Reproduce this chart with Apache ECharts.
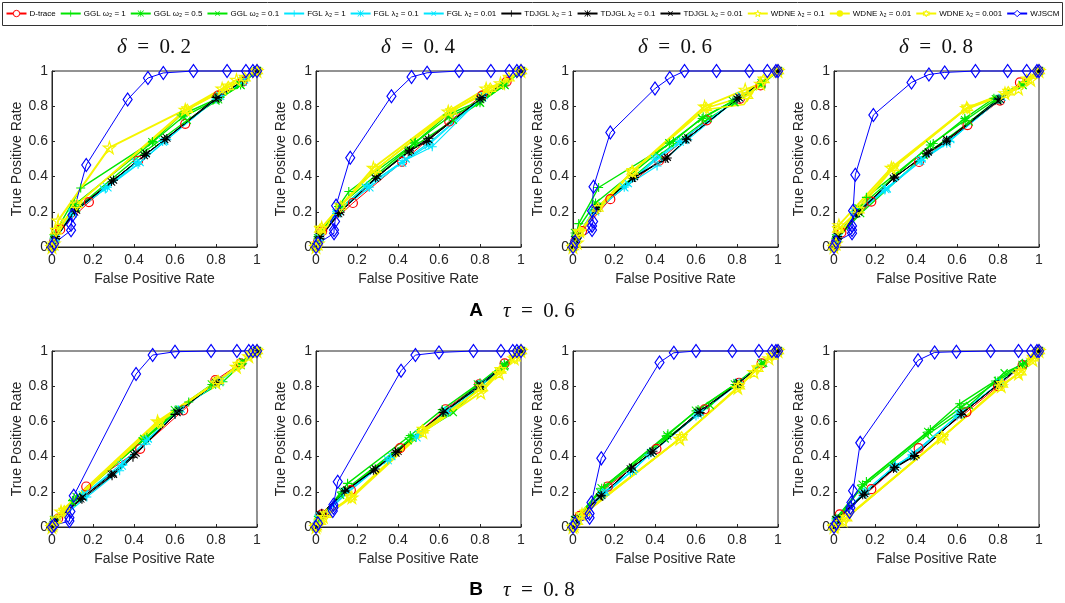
<!DOCTYPE html>
<html><head><meta charset="utf-8">
<script src="https://cdn.jsdelivr.net/npm/echarts@6/dist/echarts.min.js"></script>
<style>html,body{margin:0;padding:0;background:#fff}#c{width:1065px;height:603px}</style>
</head><body><div id="c"></div>
<script>
// Panel titles
const panelTitles = ['0. 2','0. 4','0. 6','0. 8','0. 2','0. 4','0. 6','0. 8'];
const rowLabels = [['A','0. 6'],['B','0. 8']];
const xTicks = [0,0.2,0.4,0.6,0.8,1];

// Each array: 8 panels (A: δ=0.2,0.4,0.6,0.8 ; B: δ=0.2,0.4,0.6,0.8), points [FPR, TPR]
const dtrace = [
 [[0,0],[0.01,0.03],[0.04,0.1],[0.18,0.255],[0.42,0.49],[0.65,0.70],[0.81,0.86],[0.93,0.94],[1,1]],
 [[0,0],[0.01,0.03],[0.03,0.09],[0.18,0.25],[0.42,0.484],[0.65,0.713],[0.81,0.86],[0.93,0.94],[1,1]],
 [[0,0],[0.01,0.03],[0.044,0.091],[0.182,0.272],[0.42,0.49],[0.652,0.72],[0.814,0.842],[0.915,0.918],[1,1]],
 [[0,0],[0.01,0.03],[0.036,0.082],[0.182,0.258],[0.415,0.483],[0.651,0.693],[0.81,0.832],[0.907,0.935],[1,1]],
 [[0,0],[0.03,0.048],[0.167,0.23],[0.43,0.444],[0.64,0.663],[0.797,0.834],[0.92,0.93],[1,1]],
 [[0,0],[0.028,0.072],[0.17,0.21],[0.41,0.448],[0.632,0.669],[0.796,0.811],[0.92,0.93],[1,1]],
 [[0,0],[0.033,0.063],[0.17,0.23],[0.407,0.444],[0.642,0.669],[0.81,0.819],[0.92,0.93],[1,1]],
 [[0,0],[0.028,0.072],[0.182,0.215],[0.413,0.448],[0.646,0.653],[0.8,0.8],[0.92,0.92],[1,1]]
];
const ggl1 = [
 [[0,0],[0.01,0.07],[0.14,0.335],[0.49,0.60],[0.63,0.75],[0.82,0.85],[0.92,0.93],[1,1]],
 [[0,0],[0.01,0.06],[0.16,0.315],[0.485,0.595],[0.64,0.75],[0.8,0.83],[0.91,0.92],[1,1]],
 [[0,0],[0.028,0.133],[0.125,0.338],[0.49,0.6],[0.635,0.74],[0.79,0.833],[0.92,0.93],[1,1]],
 [[0,0],[0.01,0.05],[0.158,0.282],[0.484,0.588],[0.638,0.731],[0.78,0.845],[0.92,0.93],[1,1]],
 [[0,0],[0.01,0.03],[0.1,0.15],[0.463,0.51],[0.667,0.71],[0.834,0.825],[0.93,0.93],[1,1]],
 [[0,0],[0.01,0.03],[0.154,0.248],[0.46,0.52],[0.616,0.667],[0.8,0.82],[0.918,0.928],[1,1]],
 [[0,0],[0.01,0.04],[0.153,0.229],[0.463,0.53],[0.61,0.667],[0.793,0.81],[0.92,0.92],[1,1]],
 [[0,0],[0.01,0.05],[0.158,0.259],[0.47,0.554],[0.613,0.7],[0.787,0.83],[0.92,0.93],[1,1]]
];
const ggl05 = [
 [[0,0],[0.01,0.05],[0.11,0.24],[0.49,0.595],[0.64,0.74],[0.81,0.84],[0.92,0.92],[1,1]],
 [[0,0],[0.01,0.05],[0.11,0.23],[0.48,0.59],[0.65,0.74],[0.8,0.82],[0.92,0.92],[1,1]],
 [[0,0],[0.01,0.08],[0.11,0.25],[0.47,0.59],[0.63,0.73],[0.78,0.83],[0.92,0.93],[1,1]],
 [[0,0],[0.01,0.05],[0.12,0.22],[0.47,0.58],[0.64,0.72],[0.79,0.84],[0.92,0.92],[1,1]],
 [[0,0],[0.01,0.04],[0.12,0.17],[0.45,0.5],[0.6,0.663],[0.78,0.81],[0.92,0.92],[1,1]],
 [[0,0],[0.01,0.04],[0.13,0.2],[0.469,0.507],[0.63,0.65],[0.79,0.81],[0.92,0.92],[1,1]],
 [[0,0],[0.01,0.04],[0.14,0.22],[0.46,0.52],[0.6,0.66],[0.79,0.81],[0.92,0.93],[1,1]],
 [[0,0],[0.01,0.04],[0.14,0.24],[0.46,0.54],[0.62,0.68],[0.8,0.83],[0.92,0.92],[1,1]]
];
const ggl01 = [
 [[0,0],[0.01,0.04],[0.12,0.22],[0.45,0.54],[0.66,0.72],[0.8,0.83],[0.92,0.92],[1,1]],
 [[0,0],[0.01,0.04],[0.12,0.22],[0.45,0.55],[0.67,0.72],[0.8,0.82],[0.92,0.92],[1,1]],
 [[0,0],[0.01,0.05],[0.12,0.23],[0.42,0.52],[0.66,0.73],[0.79,0.82],[0.92,0.92],[1,1]],
 [[0,0],[0.01,0.04],[0.13,0.19],[0.44,0.52],[0.66,0.71],[0.8,0.84],[0.92,0.92],[1,1]],
 [[0,0],[0.01,0.03],[0.1,0.14],[0.44,0.49],[0.62,0.67],[0.8,0.82],[0.93,0.94],[1,1]],
 [[0,0],[0.01,0.03],[0.12,0.18],[0.45,0.49],[0.67,0.65],[0.8,0.8],[0.92,0.91],[1,1]],
 [[0,0],[0.01,0.03],[0.13,0.2],[0.45,0.5],[0.67,0.69],[0.8,0.82],[0.93,0.93],[1,1]],
 [[0,0],[0.01,0.03],[0.13,0.22],[0.45,0.52],[0.66,0.69],[0.83,0.876],[0.93,0.93],[1,1]]
];
const fgl1 = [
 [[0,0],[0.01,0.04],[0.1,0.2],[0.26,0.33],[0.42,0.47],[0.56,0.61],[0.8,0.84],[0.93,0.94],[1,1]],
 [[0,0],[0.01,0.04],[0.1,0.2],[0.25,0.35],[0.43,0.49],[0.567,0.57],[0.8,0.84],[1,1]],
 [[0,0],[0.01,0.04],[0.1,0.2],[0.26,0.348],[0.41,0.46],[0.56,0.61],[0.8,0.84],[1,1]],
 [[0,0],[0.01,0.04],[0.1,0.19],[0.248,0.324],[0.427,0.49],[0.565,0.6],[0.8,0.84],[1,1]],
 [[0,0],[0.01,0.02],[0.17,0.17],[0.33,0.32],[0.45,0.47],[0.6,0.64],[0.8,0.82],[1,1]],
 [[0,0],[0.02,0.05],[0.15,0.19],[0.363,0.396],[0.5,0.52],[0.64,0.65],[0.8,0.8],[1,1]],
 [[0,0],[0.01,0.03],[0.15,0.18],[0.28,0.31],[0.37,0.41],[0.6,0.63],[0.8,0.81],[1,1]],
 [[0,0],[0.01,0.03],[0.15,0.2],[0.3,0.35],[0.385,0.404],[0.6,0.63],[0.8,0.81],[1,1]]
];
const fgl01 = [
 [[0,0],[0.01,0.03],[0.1,0.19],[0.27,0.34],[0.41,0.48],[0.54,0.6],[0.82,0.86],[0.93,0.94],[1,1]],
 [[0,0],[0.02,0.05],[0.1,0.19],[0.26,0.34],[0.42,0.48],[0.55,0.58],[0.81,0.85],[1,1]],
 [[0,0],[0.02,0.05],[0.1,0.21],[0.25,0.34],[0.4,0.5],[0.52,0.6],[0.81,0.85],[1,1]],
 [[0,0],[0.02,0.05],[0.1,0.2],[0.25,0.33],[0.42,0.49],[0.55,0.59],[0.81,0.84],[1,1]],
 [[0,0],[0.02,0.04],[0.15,0.18],[0.34,0.35],[0.46,0.49],[0.62,0.66],[0.82,0.83],[1,1]],
 [[0,0],[0.02,0.06],[0.14,0.2],[0.35,0.38],[0.49,0.51],[0.63,0.66],[0.81,0.81],[1,1]],
 [[0,0],[0.02,0.04],[0.14,0.19],[0.29,0.32],[0.38,0.42],[0.61,0.64],[0.81,0.82],[1,1]],
 [[0,0],[0.02,0.04],[0.14,0.19],[0.29,0.34],[0.38,0.41],[0.61,0.64],[0.81,0.82],[1,1]]
];
const fgl001 = [
 [[0,0],[0.02,0.05],[0.1,0.2],[0.25,0.33],[0.43,0.48],[0.55,0.6],[0.81,0.85],[0.94,0.95],[1,1]],
 [[0,0],[0.01,0.04],[0.11,0.2],[0.24,0.34],[0.44,0.5],[0.56,0.6],[0.82,0.86],[1,1]],
 [[0,0],[0.01,0.04],[0.11,0.2],[0.27,0.36],[0.42,0.51],[0.55,0.61],[0.82,0.86],[1,1]],
 [[0,0],[0.01,0.04],[0.11,0.19],[0.26,0.33],[0.43,0.5],[0.57,0.61],[0.82,0.85],[1,1]],
 [[0,0],[0.01,0.03],[0.16,0.19],[0.35,0.37],[0.47,0.5],[0.63,0.67],[0.81,0.83],[1,1]],
 [[0,0],[0.01,0.05],[0.15,0.2],[0.37,0.4],[0.5,0.53],[0.64,0.66],[0.8,0.81],[1,1]],
 [[0,0],[0.01,0.03],[0.16,0.2],[0.3,0.33],[0.39,0.43],[0.62,0.65],[0.8,0.81],[1,1]],
 [[0,0],[0.01,0.03],[0.16,0.2],[0.31,0.35],[0.39,0.42],[0.62,0.65],[0.8,0.81],[1,1]]
];
const tdjgl1 = [
 [[0,0],[0.02,0.05],[0.11,0.21],[0.3,0.38],[0.46,0.53],[0.55,0.61],[0.8,0.85],[0.93,0.94],[1,1]],
 [[0,0],[0.02,0.05],[0.118,0.197],[0.297,0.403],[0.456,0.547],[0.55,0.618],[0.8,0.84],[1,1]],
 [[0,0],[0.02,0.05],[0.117,0.224],[0.3,0.395],[0.46,0.506],[0.554,0.614],[0.8,0.84],[1,1]],
 [[0,0],[0.02,0.05],[0.117,0.19],[0.296,0.397],[0.46,0.534],[0.549,0.607],[0.8,0.84],[1,1]],
 [[0,0],[0.01,0.03],[0.146,0.158],[0.293,0.291],[0.395,0.396],[0.6,0.64],[0.8,0.82],[1,1]],
 [[0,0],[0.028,0.078],[0.142,0.206],[0.289,0.33],[0.387,0.425],[0.62,0.65],[0.8,0.8],[1,1]],
 [[0,0],[0.02,0.04],[0.137,0.177],[0.285,0.335],[0.39,0.43],[0.62,0.65],[0.8,0.81],[1,1]],
 [[0,0],[0.02,0.04],[0.15,0.187],[0.296,0.339],[0.393,0.406],[0.62,0.64],[0.8,0.81],[1,1]]
];
const tdjgl01 = [
 [[0,0],[0.02,0.06],[0.11,0.2],[0.29,0.37],[0.45,0.52],[0.56,0.62],[0.81,0.85],[1,1]],
 [[0,0],[0.02,0.06],[0.11,0.19],[0.29,0.39],[0.45,0.54],[0.54,0.6],[0.81,0.85],[1,1]],
 [[0,0],[0.02,0.06],[0.11,0.21],[0.29,0.39],[0.45,0.5],[0.55,0.61],[0.81,0.85],[1,1]],
 [[0,0],[0.02,0.06],[0.11,0.19],[0.29,0.39],[0.45,0.53],[0.55,0.6],[0.81,0.84],[1,1]],
 [[0,0],[0.02,0.04],[0.14,0.16],[0.29,0.3],[0.4,0.41],[0.62,0.66],[0.8,0.82],[1,1]],
 [[0,0],[0.03,0.07],[0.14,0.2],[0.28,0.32],[0.4,0.43],[0.62,0.65],[0.8,0.8],[1,1]],
 [[0,0],[0.02,0.05],[0.14,0.18],[0.28,0.33],[0.38,0.42],[0.61,0.65],[0.8,0.81],[1,1]],
 [[0,0],[0.02,0.05],[0.14,0.18],[0.29,0.33],[0.39,0.4],[0.62,0.64],[0.8,0.81],[1,1]]
];
const tdjgl001 = [
 [[0,0],[0.01,0.04],[0.12,0.21],[0.3,0.38],[0.46,0.53],[0.55,0.61],[0.8,0.84],[1,1]],
 [[0,0],[0.01,0.04],[0.12,0.2],[0.3,0.4],[0.46,0.55],[0.55,0.61],[0.8,0.84],[1,1]],
 [[0,0],[0.01,0.04],[0.12,0.22],[0.3,0.4],[0.46,0.51],[0.56,0.62],[0.8,0.84],[1,1]],
 [[0,0],[0.01,0.04],[0.12,0.2],[0.3,0.4],[0.46,0.54],[0.55,0.61],[0.8,0.83],[1,1]],
 [[0,0],[0.01,0.03],[0.15,0.17],[0.3,0.3],[0.41,0.42],[0.61,0.65],[0.81,0.83],[1,1]],
 [[0,0],[0.02,0.07],[0.15,0.21],[0.29,0.33],[0.39,0.42],[0.63,0.66],[0.8,0.81],[1,1]],
 [[0,0],[0.01,0.04],[0.13,0.17],[0.29,0.34],[0.39,0.43],[0.62,0.66],[0.81,0.82],[1,1]],
 [[0,0],[0.01,0.04],[0.15,0.19],[0.3,0.34],[0.4,0.41],[0.63,0.65],[0.8,0.81],[1,1]]
];
const wdne01 = [
 [[0,0],[0.01,0.02],[0.03,0.15],[0.28,0.565],[0.65,0.78],[0.83,0.9],[0.9,0.95],[1,1]],
 [[0,0],[0.01,0.02],[0.028,0.11],[0.28,0.45],[0.645,0.77],[0.83,0.9],[0.9,0.93],[1,1]],
 [[0,0],[0.02,0.025],[0.033,0.09],[0.288,0.428],[0.642,0.798],[0.84,0.894],[0.915,0.928],[1,1]],
 [[0,0],[0.01,0.02],[0.024,0.124],[0.28,0.45],[0.647,0.79],[0.834,0.874],[0.9,0.9],[0.96,0.95],[1,1]],
 [[0,0],[0.005,0.01],[0.044,0.088],[0.515,0.6],[0.8,0.82],[0.9,0.91],[0.96,0.97],[1,1]],
 [[0,0],[0.005,0.01],[0.036,0.057],[0.175,0.168],[0.521,0.539],[0.804,0.764],[0.894,0.874],[0.967,0.958],[1,1]],
 [[0,0],[0.006,0.006],[0.044,0.072],[0.521,0.501],[0.804,0.79],[0.883,0.88],[0.956,0.958],[1,1]],
 [[0,0],[0.003,0.006],[0.044,0.038],[0.524,0.507],[0.816,0.8],[0.9,0.872],[0.97,0.95],[1,1]]
];
const wdne001 = [
 [[0,0],[0.01,0.04],[0.1,0.22],[0.64,0.77],[0.84,0.89],[0.92,0.95],[1,1]],
 [[0,0],[0.01,0.03],[0.1,0.21],[0.28,0.43],[0.64,0.76],[0.84,0.88],[0.92,0.94],[1,1]],
 [[0,0],[0.01,0.03],[0.1,0.2],[0.28,0.42],[0.64,0.78],[0.834,0.81],[0.9,0.92],[1,1]],
 [[0,0],[0.01,0.03],[0.1,0.2],[0.28,0.44],[0.64,0.78],[0.84,0.87],[0.92,0.92],[1,1]],
 [[0,0],[0.01,0.02],[0.05,0.09],[0.5,0.58],[0.8,0.82],[0.89,0.9],[0.95,0.96],[1,1]],
 [[0,0],[0.01,0.02],[0.04,0.06],[0.18,0.18],[0.51,0.53],[0.8,0.78],[0.9,0.88],[0.96,0.95],[1,1]],
 [[0,0],[0.01,0.02],[0.05,0.07],[0.52,0.5],[0.8,0.79],[0.89,0.89],[0.96,0.96],[1,1]],
 [[0,0],[0.01,0.01],[0.05,0.04],[0.52,0.5],[0.81,0.8],[0.9,0.87],[0.96,0.95],[1,1]]
];
const wdne0001 = [
 [[0,0],[0.02,0.09],[0.12,0.24],[0.66,0.78],[0.86,0.91],[0.94,0.96],[1,1]],
 [[0,0],[0.02,0.1],[0.12,0.23],[0.29,0.44],[0.66,0.77],[0.85,0.9],[0.94,0.96],[1,1]],
 [[0,0],[0.03,0.08],[0.12,0.22],[0.29,0.43],[0.65,0.79],[0.85,0.86],[0.93,0.95],[1,1]],
 [[0,0],[0.02,0.1],[0.12,0.21],[0.29,0.45],[0.65,0.79],[0.85,0.88],[0.94,0.95],[1,1]],
 [[0,0],[0.02,0.04],[0.06,0.09],[0.52,0.59],[0.81,0.83],[0.91,0.92],[0.97,0.98],[1,1]],
 [[0,0],[0.02,0.03],[0.05,0.07],[0.17,0.17],[0.52,0.55],[0.81,0.79],[0.9,0.89],[0.97,0.96],[1,1]],
 [[0,0],[0.02,0.03],[0.06,0.08],[0.53,0.51],[0.81,0.8],[0.9,0.9],[0.97,0.97],[1,1]],
 [[0,0],[0.02,0.02],[0.06,0.05],[0.53,0.51],[0.82,0.81],[0.91,0.88],[0.97,0.96],[1,1]]
];
const wjscm = [
 [[0,0],[0.01,0.02],[0.093,0.095],[0.093,0.126],[0.1,0.18],[0.167,0.466],[0.369,0.838],[0.468,0.96],[0.543,0.989],[0.69,1],[0.854,1],[0.946,1],[0.98,1],[1,1]],
 [[0,0],[0.01,0.02],[0.088,0.078],[0.088,0.097],[0.093,0.145],[0.098,0.235],[0.167,0.507],[0.368,0.857],[0.466,0.966],[0.542,0.99],[0.698,1],[0.853,1],[0.943,1],[0.98,1],[1,1]],
 [[0,0],[0.01,0.03],[0.093,0.097],[0.093,0.12],[0.098,0.145],[0.093,0.205],[0.1,0.342],[0.182,0.65],[0.4,0.9],[0.472,0.96],[0.544,1],[0.7,1],[0.86,1],[0.948,1],[0.99,1],[1,1]],
 [[0,0],[0.01,0.03],[0.088,0.078],[0.088,0.097],[0.088,0.12],[0.093,0.206],[0.104,0.41],[0.192,0.75],[0.378,0.935],[0.463,0.98],[0.54,0.992],[0.69,1],[0.847,1],[0.94,1],[0.99,1],[1,1]],
 [[0,0],[0.01,0.01],[0.085,0.034],[0.085,0.053],[0.09,0.088],[0.106,0.177],[0.41,0.869],[0.491,0.977],[0.6,0.996],[0.776,1],[0.902,1],[0.96,1],[0.98,1],[1,1]],
 [[0,0],[0.01,0.02],[0.082,0.091],[0.085,0.11],[0.085,0.126],[0.106,0.257],[0.415,0.888],[0.485,0.977],[0.6,0.992],[0.768,1],[0.902,1],[0.96,1],[0.98,1],[1,1]],
 [[0,0],[0.01,0.02],[0.081,0.053],[0.081,0.076],[0.09,0.139],[0.138,0.39],[0.422,0.935],[0.492,0.99],[0.6,1],[0.777,1],[0.907,1],[0.97,1],[0.99,1],[1,1]],
 [[0,0],[0.01,0.02],[0.076,0.086],[0.08,0.11],[0.085,0.139],[0.093,0.206],[0.128,0.478],[0.41,0.947],[0.491,0.992],[0.597,0.996],[0.764,1],[0.9,1],[0.96,1],[0.99,1],[1,1]]
];

// ---- styling ----
const PLUS = 'path://M4.4,0H5.6V10H4.4Z M0,4.4H10V5.6H0Z';
const AST = 'path://M4.4,0H5.6V10H4.4Z M0,4.4H10V5.6H0Z M0.8,0L10,9.2L9.2,10L0,0.8Z M9.2,0L10,0.8L0.8,10L0,9.2Z';
const PENT = 'path://M5,0L6.12,3.46L9.76,3.45L6.81,5.59L7.94,9.05L5,6.9L2.06,9.05L3.19,5.59L0.24,3.45L3.88,3.46Z';
const HEX = 'path://M5,0L9.33,7.5L0.67,7.5Z M5,10L0.67,2.5L9.33,2.5Z';
const G = '#00e600', C = '#00e6ff', Y = '#f5f500', K = '#000000';
const methods = [
 {name:'D-trace', d:dtrace, c:'#ff0000', s:'circle', hollow:true, sz:9, lw:1},
 {name:'GGL ω₂ = 1', d:ggl1, c:G, s:PLUS, sz:9, lw:1.4},
 {name:'GGL ω₂ = 0.5', d:ggl05, c:G, s:AST, sz:9, lw:1.4},
 {name:'GGL ω₂ = 0.1', d:ggl01, c:G, s:PLUS, rot:45, sz:10, lw:1.4},
 {name:'FGL λ₂ = 1', d:fgl1, c:C, s:PLUS, sz:9, lw:1.2},
 {name:'FGL λ₂ = 0.1', d:fgl01, c:C, s:AST, sz:9, lw:1.2},
 {name:'FGL λ₂ = 0.01', d:fgl001, c:C, s:PLUS, rot:45, sz:10, lw:1.2},
 {name:'TDJGL λ₂ = 1', d:tdjgl1, c:K, s:PLUS, sz:9, lw:1},
 {name:'TDJGL λ₂ = 0.1', d:tdjgl01, c:K, s:AST, sz:8, lw:1},
 {name:'TDJGL λ₂ = 0.01', d:tdjgl001, c:K, s:PLUS, rot:45, sz:10, lw:1},
 {name:'WDNE λ₂ = 0.1', d:wdne01, c:Y, s:PENT, hollow:true, sz:12, lw:2},
 {name:'WDNE λ₂ = 0.01', d:wdne001, c:Y, s:'none', sz:0, lw:1.6},
 {name:'WDNE λ₂ = 0.001', d:wdne0001, c:Y, s:HEX, hollow:true, sz:11, lw:1.6},
 {name:'WJSCM', d:wjscm, c:'#0000ff', s:'diamond', hollow:true, sz:[9,13], lw:1}
];

const gridLefts = [52, 316, 573, 834];
const grids = [], xAxes = [], yAxes = [], series = [];
const axisCol = '#262626';
const styleOf = m => m.hollow
  ? {color: 'rgba(0,0,0,0)', borderColor: m.c, borderWidth: 1.2}
  : {color: m.c, borderWidth: 0};
for (let i = 0; i < 8; i++) {
  const row = Math.floor(i / 4), col = i % 4;
  grids.push({left: gridLefts[col], width: 205, top: row === 0 ? 71 : 351, height: 176,
    show: true, borderColor: axisCol, borderWidth: 1, backgroundColor: 'transparent'});
  const common = {gridIndex: i, type: 'value', min: 0, max: 1, interval: 0.2,
    nameLocation: 'middle',
    nameTextStyle: {fontSize: 14, color: axisCol, fontFamily: 'Liberation Sans'},
    axisLine: {show: true, onZero: false, lineStyle: {color: axisCol, width: 1}},
    axisTick: {show: true, inside: true, length: 3, lineStyle: {color: axisCol}},
    axisLabel: {fontSize: 14, color: axisCol, fontFamily: 'Liberation Sans',
      formatter: v => String(Math.round(v * 10) / 10)},
    splitLine: {show: false}};
  xAxes.push(Object.assign({}, common, {name: 'False Positive Rate', nameGap: 25,
    axisLabel: Object.assign({}, common.axisLabel, {margin: 6})}));
  yAxes.push(Object.assign({}, common, {name: 'True Positive Rate', nameGap: 27,
    axisLabel: Object.assign({}, common.axisLabel, {margin: 4})}));
  methods.forEach(m => {
    series.push({type: 'line', name: m.name, xAxisIndex: i, yAxisIndex: i,
      data: m.d[i], symbol: m.s, symbolSize: m.sz, symbolRotate: m.rot || 0,
      showAllSymbol: true, clip: false,
      lineStyle: {color: m.c, width: m.lw}, itemStyle: styleOf(m),
      emphasis: {disabled: true}, silent: true});
  });
}

const graphics = [
  {type: 'rect', shape: {x: 2.5, y: 2.5, width: 1060, height: 23}, style: {fill: 'none', stroke: '#333', lineWidth: 1}, z: 100}
];
for (let i = 0; i < 4; i++) {
  graphics.push({type: 'text', x: gridLefts[i] + 102, y: 47,
    style: {text: '{i|δ}  =  ' + panelTitles[i], font: '21px "Liberation Serif"', fill: '#111',
      align: 'center', verticalAlign: 'middle', textAlign: 'center', textVerticalAlign: 'middle',
      rich: {i: {fontStyle: 'italic', fontSize: 21, fontFamily: 'Liberation Serif'}}}});
}
rowLabels.forEach((rl, r) => {
  const y = r === 0 ? 311 : 590;
  graphics.push({type: 'text', x: 476, y: y,
    style: {text: rl[0], font: 'bold 19px "Liberation Sans"', fill: '#000', align: 'center', verticalAlign: 'middle', textAlign: 'center', textVerticalAlign: 'middle'}});
  graphics.push({type: 'text', x: 503, y: y,
    style: {text: '{i|τ}  =  ' + rl[1], font: '21px "Liberation Serif"', fill: '#111', align: 'left', verticalAlign: 'middle', textAlign: 'left', textVerticalAlign: 'middle',
      rich: {i: {fontStyle: 'italic', fontSize: 21, fontFamily: 'Liberation Serif'}}}});
});

const chart = echarts.init(document.getElementById('c'), null, {renderer: 'canvas'});
chart.setOption({
  animation: false,
  backgroundColor: '#fff',
  legend: {data: methods.map(m => m.hollow
      ? {name: m.name, itemStyle: {color: '#ffffff', borderColor: m.c, borderWidth: 1}}
      : {name: m.name}),
    top: 9, left: 'center', padding: 0,
    itemWidth: 20, itemHeight: 8, itemGap: 4,
    textStyle: {fontSize: 8, fontFamily: 'Liberation Sans', color: '#000', padding: [0, 0, 0, -2]},
    selectedMode: false},
  grid: grids, xAxis: xAxes, yAxis: yAxes, series: series, graphic: graphics
});
</script></body></html>
